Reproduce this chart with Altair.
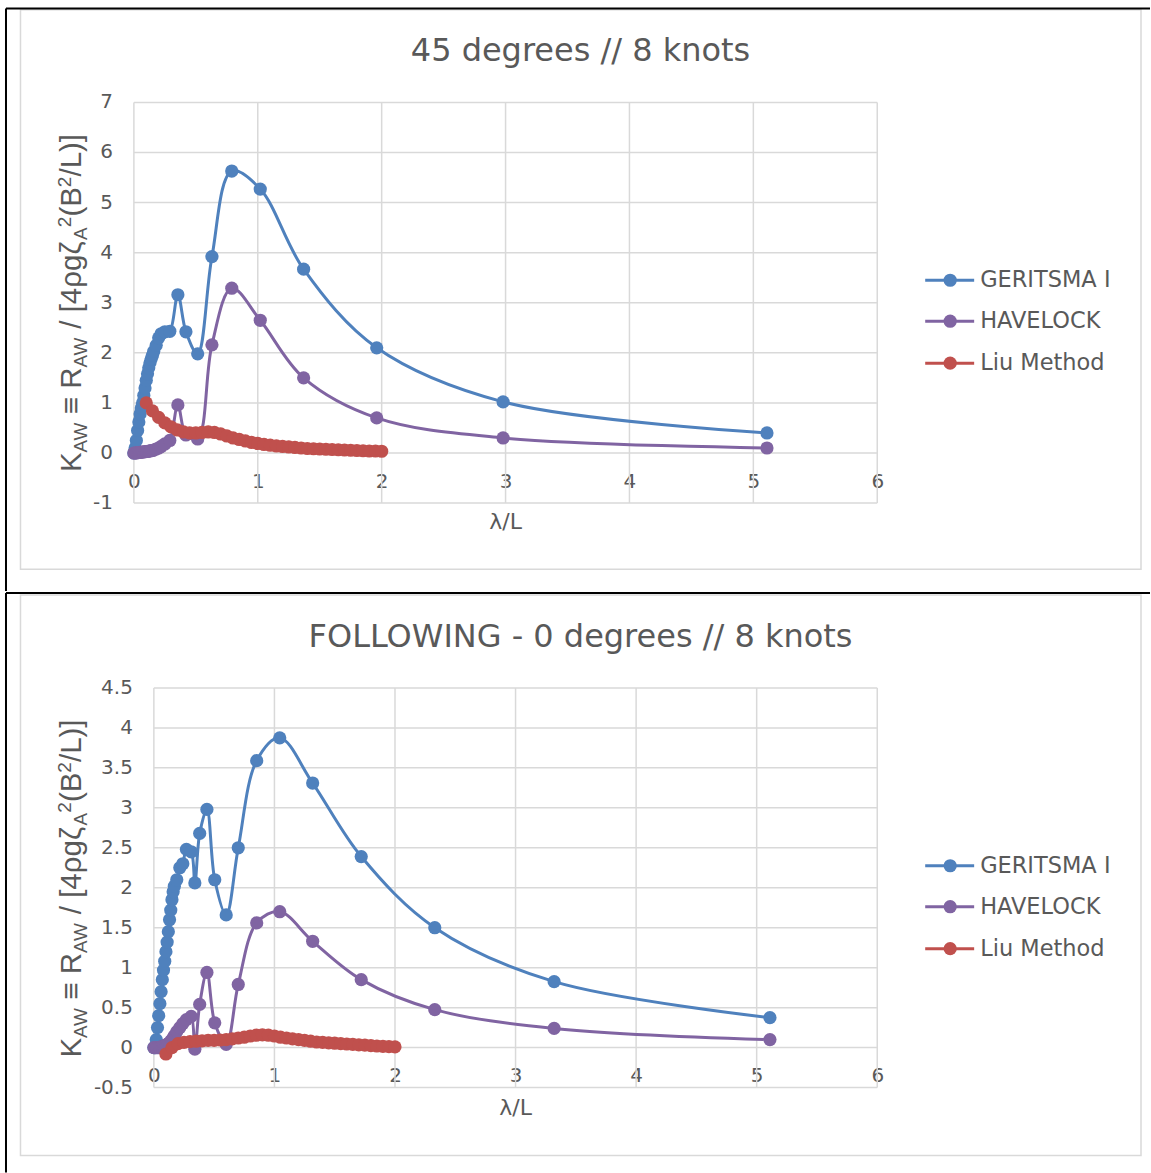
import altair as alt
import pandas as pd

# ---------------- data ----------------
SERIES = ["GERITSMA I", "HAVELOCK", "Liu Method"]
COLORS = ["#4F81BD", "#8064A2", "#C0504D"]

TOP_TITLE = "45 degrees // 8 knots"
TOP_X = [0.00, 0.01, 0.02, 0.03, 0.04, 0.05, 0.06, 0.07, 0.08, 0.09, 0.10, 0.11, 0.12, 0.13,
         0.14, 0.15, 0.16, 0.18, 0.20, 0.22, 0.25, 0.29, 0.355, 0.42, 0.515, 0.63, 0.79, 1.02,
         1.37, 1.96, 2.98, 5.11]
TOP_GERITSMA = [0.0, 0.1, 0.25, 0.45, 0.62, 0.78, 0.9, 1.0, 1.15, 1.3, 1.45, 1.58, 1.7, 1.8,
                1.88, 1.95, 2.03, 2.15, 2.3, 2.38, 2.42, 2.43, 3.16, 2.42, 1.98, 3.92, 5.63, 5.27,
                3.67, 2.1, 1.02, 0.4]
TOP_HAVELOCK = [0.0, 0.0, 0.0, 0.01, 0.01, 0.01, 0.02, 0.02, 0.02, 0.03, 0.03, 0.03, 0.04, 0.04,
                0.05, 0.05, 0.06, 0.08, 0.1, 0.13, 0.18, 0.25, 0.96, 0.36, 0.28, 2.16, 3.29, 2.65,
                1.5, 0.7, 0.3, 0.1]
TOP_LIU_X = [0.10, 0.15, 0.20, 0.25, 0.30, 0.35, 0.40, 0.45, 0.50, 0.55, 0.60, 0.65, 0.70, 0.75,
             0.80, 0.85, 0.90, 0.95, 1.00, 1.05, 1.10, 1.15, 1.20, 1.25, 1.30, 1.35, 1.40, 1.45,
             1.50, 1.55, 1.60, 1.65, 1.70, 1.75, 1.80, 1.85, 1.90, 1.95, 2.00]
TOP_LIU = [1.00, 0.84, 0.71, 0.60, 0.52, 0.46, 0.42, 0.40, 0.40, 0.41, 0.42, 0.41, 0.38, 0.34,
           0.30, 0.27, 0.24, 0.21, 0.19, 0.17, 0.155, 0.14, 0.13, 0.12, 0.11, 0.10, 0.09, 0.085,
           0.08, 0.075, 0.07, 0.065, 0.06, 0.055, 0.05, 0.045, 0.04, 0.04, 0.035]
TOP_Y_TICKS = [-1, 0, 1, 2, 3, 4, 5, 6, 7]

BOT_TITLE = "FOLLOWING - 0 degrees // 8 knots"
BOT_X = [0.00, 0.01, 0.02, 0.03, 0.04, 0.05, 0.06, 0.07, 0.08, 0.09, 0.10, 0.11, 0.12, 0.13,
         0.14, 0.15, 0.16, 0.17, 0.19, 0.215, 0.24, 0.27, 0.31, 0.34, 0.38, 0.44, 0.505, 0.6,
         0.7, 0.853, 1.044, 1.317, 1.72, 2.33, 3.32, 5.11]
BOT_GERITSMA = [0.0, 0.0, 0.1, 0.25, 0.4, 0.55, 0.7, 0.85, 0.97, 1.08, 1.2, 1.32, 1.45, 1.6,
                1.72, 1.85, 1.95, 2.02, 2.1, 2.25, 2.3, 2.48, 2.45, 2.06, 2.68, 2.98, 2.1, 1.66,
                2.5, 3.59, 3.875, 3.31, 2.39, 1.5, 0.825, 0.375]
BOT_HAVELOCK = [0.0, 0.0, 0.0, 0.0, 0.0, 0.0, 0.01, 0.01, 0.02, 0.02, 0.03, 0.04, 0.05, 0.06,
                0.08, 0.1, 0.12, 0.15, 0.2, 0.25, 0.3, 0.35, 0.39, -0.02, 0.54, 0.94, 0.31, 0.04,
                0.79, 1.56, 1.7, 1.33, 0.85, 0.475, 0.24, 0.1]
BOT_LIU_X = TOP_LIU_X
BOT_LIU = [-0.08, 0.0, 0.05, 0.065, 0.075, 0.08, 0.085, 0.09, 0.09, 0.095, 0.10, 0.11, 0.12, 0.13,
           0.145, 0.155, 0.16, 0.155, 0.145, 0.13, 0.12, 0.11, 0.10, 0.09, 0.08, 0.07, 0.065, 0.06,
           0.055, 0.05, 0.045, 0.04, 0.035, 0.03, 0.025, 0.02, 0.015, 0.012, 0.01]
BOT_Y_TICKS = [-0.5, 0, 0.5, 1, 1.5, 2, 2.5, 3, 3.5, 4, 4.5]

X_TICKS = [0, 1, 2, 3, 4, 5, 6]
X_TITLE = "λ/L"
# y-axis title pieces: (text, role)
YT_PIECES = [("K", "main"), ("AW", "sub"), ("≡ R", "main"), ("AW", "sub"),
             ("/ [4ρgζ", "main"), ("A", "sub"), ("2", "sup"), ("(B", "main"),
             ("2", "sup"), ("/L)]", "main")]

# ---------------- style ----------------
FONT = "DejaVu Sans"
TFONT = "Liberation Sans"
GREY = "#595959"
GRID = "#d9d9d9"
W = 744
MSIZE = 175
ONE = pd.DataFrame({"k": [0]})

YT_START = [370, 350.3, 312, 265.3, 226.5, 137.6, 124.9, 114.3, 84.8, 74.2]
YT_X = {"main": -53, "sub": -47, "sup": -63}
YT_SIZE = {"main": 29.5, "sub": 19, "sup": 19}
LEG_ROWS = [178, 219, 261]


def val_text(txt, x, y, size, font=FONT, align="center", baseline="middle", angle=None):
    kw = dict(font=font, fontSize=size, color=GREY, align=align, baseline=baseline)
    if angle is not None:
        kw["angle"] = angle
    return alt.Chart(ONE).mark_text(**kw).encode(
        x=alt.value(x), y=alt.value(y), text=alt.value(txt))


def zero_px(xdom):
    return W * (0 - xdom[0]) / (xdom[1] - xdom[0])


def panel(title, xs, g, h, lx, l, yticks, xdom, ydom, height, ylabpad, xoff, deco):
    xsc = alt.Scale(domain=xdom, nice=False, zero=False)
    ysc = alt.Scale(domain=ydom, nice=False, zero=False)
    xaxis = alt.Axis(values=X_TICKS, grid=False, domain=False, ticks=False, tickSize=0,
                     labelFont=FONT, labelFontSize=20, labelColor=GREY, labelPadding=28,
                     labelBaseline="middle", labelFlush=False, labelOverlap=False,
                     offset=xoff, labelExpr="datum.value + ''", title=None)
    layers = []
    # horizontal gridlines (this first layer carries the axis setup)
    hg = pd.DataFrame({"v": yticks, "a": [X_TICKS[0]] * len(yticks), "b": [X_TICKS[-1]] * len(yticks)})
    layers.append(alt.Chart(hg).mark_rule(color=GRID, strokeWidth=1.5).encode(
        y=alt.Y("v:Q", scale=ysc, axis=None),
        x=alt.X("a:Q", scale=xsc, axis=xaxis), x2="b:Q"))
    # vertical gridlines
    vg = pd.DataFrame({"v": X_TICKS, "a": [ydom[0]] * len(X_TICKS), "b": [ydom[1]] * len(X_TICKS)})
    layers.append(alt.Chart(vg).mark_rule(color=GRID, strokeWidth=1.5).encode(
        x=alt.X("v:Q", scale=xsc, title=None),
        y=alt.Y("a:Q", scale=ysc, title=None), y2="b:Q"))
    # y tick labels, positioned through the y scale
    yl = pd.DataFrame({"v": yticks, "t": [f"{v:g}" for v in yticks]})
    layers.append(alt.Chart(yl).mark_text(font=FONT, fontSize=20, color=GREY, align="right",
                                          baseline="middle").encode(
        y=alt.Y("v:Q", scale=ysc, title=None), x=alt.value(-ylabpad), text="t:N"))
    # series
    data = [(xs, g), (xs, h), (lx, l)]
    for (sx, sy), col in zip(data, COLORS):
        df = pd.DataFrame({"x": sx, "y": sy})
        X = alt.X("x:Q", scale=xsc, title=None)
        Y = alt.Y("y:Q", scale=ysc, title=None)
        base = alt.Chart(df)
        layers.append(base.mark_line(color=col, strokeWidth=3, interpolate="catmull-rom",
                                     strokeJoin="round").encode(x=X, y=Y))
        layers.append(base.mark_circle(color=col, size=MSIZE, opacity=1).encode(x=X, y=Y))
    # legend
    for name, col, ry in zip(SERIES, COLORS, LEG_ROWS):
        layers.append(alt.Chart(ONE).mark_rule(color=col, strokeWidth=3).encode(
            x=alt.value(792), x2=alt.value(841), y=alt.value(ry)))
        layers.append(alt.Chart(ONE).mark_circle(color=col, size=MSIZE, opacity=1).encode(
            x=alt.value(817), y=alt.value(ry)))
        layers.append(val_text(name, 847, ry, 22.5, align="left"))
    # titles
    layers.append(val_text(title, 447, -51, 32))
    layers.append(val_text(X_TITLE, (zero_px(xdom) + W) / 2, 420, 22))
    for (txt, role), y0 in zip(YT_PIECES, YT_START):
        layers.append(val_text(txt, YT_X[role], y0, YT_SIZE[role], font=TFONT,
                               align="left", baseline="alphabetic", angle=270))
    # frames
    bl_top, bl_bottom, box_top, box_bottom = deco
    layers.append(alt.Chart(ONE).mark_rect(fillOpacity=0, stroke=GRID, strokeWidth=1.5).encode(
        x=alt.value(-113.5), x2=alt.value(1008), y=alt.value(box_top), y2=alt.value(box_bottom)))
    layers.append(alt.Chart(ONE).mark_rule(color="black", strokeWidth=2).encode(
        x=alt.value(-128), x2=alt.value(1017), y=alt.value(bl_top)))
    layers.append(alt.Chart(ONE).mark_rule(color="black", strokeWidth=2).encode(
        x=alt.value(-128), y=alt.value(bl_top), y2=alt.value(bl_bottom)))
    return alt.layer(*layers).properties(width=W, height=height)


top = panel(TOP_TITLE, TOP_X, TOP_GERITSMA, TOP_HAVELOCK, TOP_LIU_X, TOP_LIU, TOP_Y_TICKS,
            [0, 6], [-1, 7], 401, 21, -50, (-94, 489, -92.7, 467.3))
bot = panel(BOT_TITLE, BOT_X, BOT_GERITSMA, BOT_HAVELOCK, BOT_LIU_X, BOT_LIU, BOT_Y_TICKS,
            [-20 / 120.667, 6], [-0.5, 4.5], 400, 1, -40, (-95, 485, -93, 468))

chart = alt.vconcat(top, bot, spacing=0).properties(
    padding={"left": 5, "top": 7, "right": 0, "bottom": 0}
).configure_view(stroke=None)

chart.save("out.html", embed_options={"renderer": "svg", "actions": False})
